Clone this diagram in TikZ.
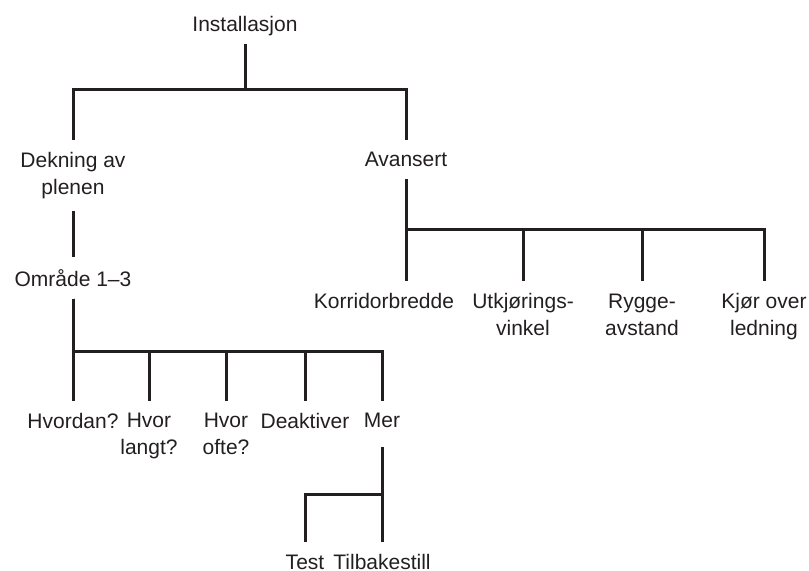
\documentclass[tikz,border=0pt]{standalone}
\usepackage{fontspec}
\setmainfont{Liberation Sans}
\usepackage{tikz}
\usetikzlibrary{positioning}
\definecolor{ink}{RGB}{35,31,32}
\tikzstyle{treeline} = [line width=1.5pt, draw=ink]

\begin{document}
\begin{tikzpicture}[
    x=0.5pt, y=-0.5pt,
    entry/.style={align=center, inner xsep=0pt, inner ysep=6pt, text=ink, font=\fontsize{10.5}{13.5}\selectfont},
    single/.style={entry, text depth=0pt},
    leaf/.style={single, text height=7.52pt}
  ]
    \useasboundingbox (0,0) rectangle (809,571);

    % Root
    \node[single, anchor=north] (inst) at (245,4) {Installasjon};
    \node[entry, below=48pt of inst, xshift=-86pt] (dekn) {Dekning av\\plenen};
    \node[single, below=48pt of inst, xshift=80.5pt] (avan) {Avansert};

    % Dekning av plenen
    \node[single, below=22.8pt of dekn] (omr) {Område 1–3};
    \node[entry, below=51pt of omr] (hvordan) {Hvordan?};
    \node[entry, below=51pt of omr, xshift=38pt] (langt) {Hvor\\langt?};
    \node[entry, below=51pt of omr, xshift=76.5pt] (ofte) {Hvor\\ofte?};
    \node[entry, below=51pt of omr, xshift=116pt] (deakt) {Deaktiver};
    \node[single, below=51pt of omr, xshift=154.5pt] (mer) {Mer};
    \node[leaf, below=51pt of mer, xshift=-38.5pt] (test) {Test};
    \node[leaf, below=51pt of mer] (tilb) {Tilbakestill};

    % Avansert
    \node[entry, below=51pt of avan, xshift=-11pt] (korr) {Korridorbredde};
    \node[entry, below=51pt of avan, xshift=58.5pt] (utkj) {Utkjørings-\\vinkel};
    \node[entry, below=51pt of avan, xshift=118pt] (rygge) {Rygge-\\avstand};
    \node[entry, below=51pt of avan, xshift=179pt] (kjor) {Kjør over\\ledning};

    % Connectors
    \foreach \c in {dekn, avan}
      \draw[treeline] (inst.south) -- ++(0,-22.5pt) -| (\c.north);
    \draw[treeline] (dekn.south) -- (dekn.south |- omr.north);
    \foreach \c in {hvordan, langt, ofte, deakt, mer}
      \draw[treeline] (omr.south) -- ++(0,-26.5pt) -| (\c.north);
    \draw[treeline, shorten <=3.5pt] (mer.south) -- (tilb.north);
    \draw[treeline] (mer.south) ++(0,-27.5pt) -| (test.north);
    \draw[treeline] (avan.south) -- (avan.south |- korr.north);
    \foreach \c in {utkj, rygge, kjor}
      \draw[treeline] (avan.south) -- ++(0,-25pt) -| (\c.north);
\end{tikzpicture}
\end{document}
